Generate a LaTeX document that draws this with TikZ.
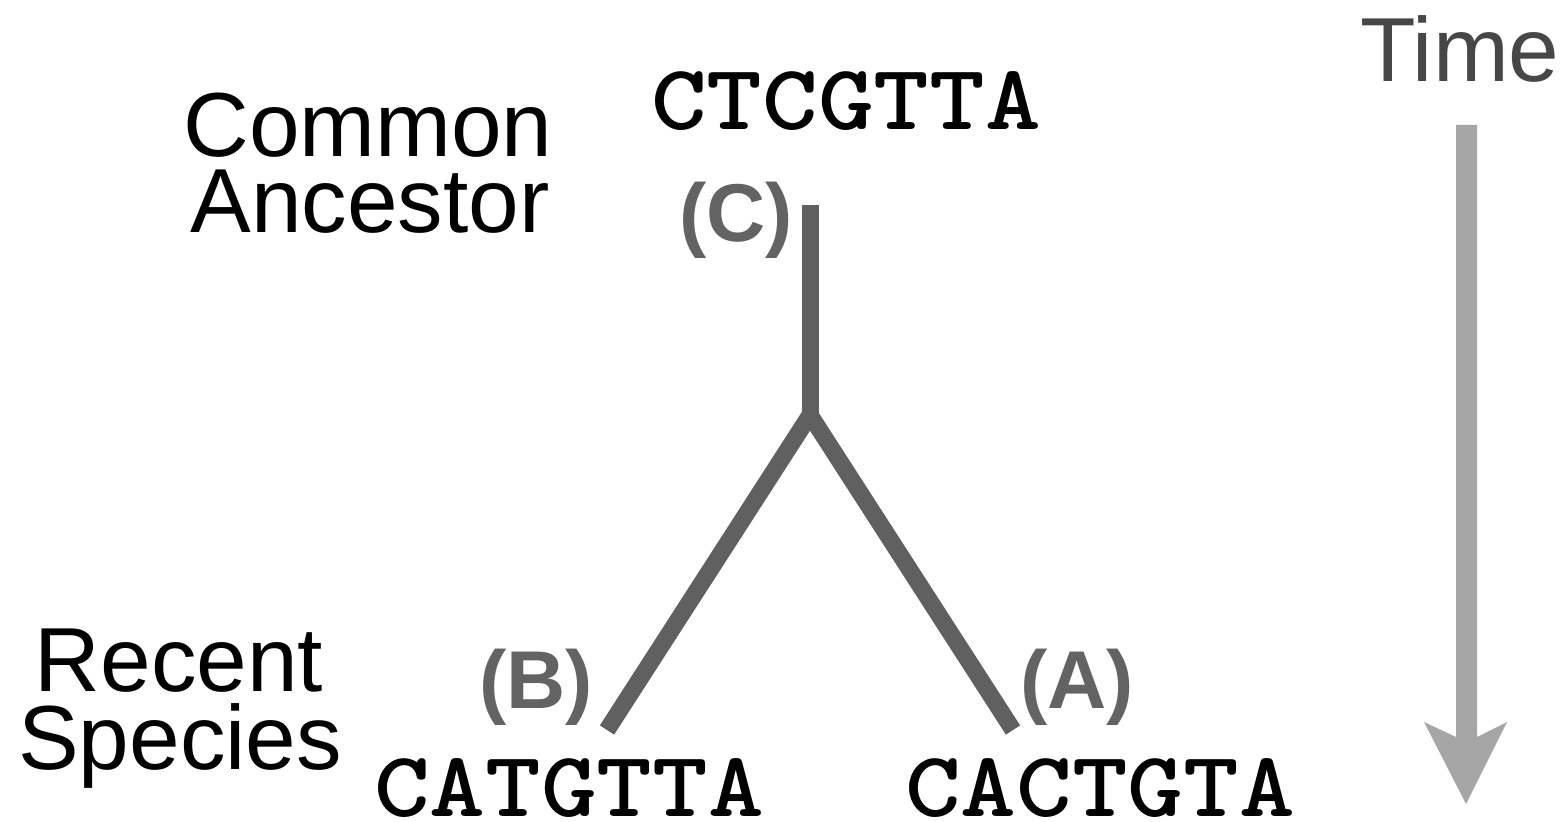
\documentclass[tikz,border=0pt]{standalone}
\usepackage{fontspec}
\usepackage{graphicx}
\setmainfont{Liberation Sans}
\definecolor{timegray}{HTML}{474747}
\definecolor{treegray}{HTML}{606060}
\definecolor{labelgray}{HTML}{636363}
\definecolor{arrowgray}{HTML}{A6A6A6}
\newcommand{\seqtext}[1]{\scalebox{1.14}[1]{#1}}
\tikzset{
  sanslabel/.style={anchor=base, inner sep=0pt, text=black, font=\fontsize{45.5pt}{50pt}\selectfont},
  seqlabel/.style={anchor=base, inner sep=0pt, text=black, font=\fontsize{46.5pt}{50pt}\selectfont\ttfamily\bfseries\addfontfeatures{FakeBold=1.5}},
  letterlabel/.style={anchor=base, inner sep=0pt, text=labelgray, font=\fontsize{41pt}{45pt}\selectfont\bfseries},
  branch/.style={draw=treegray, line width=8.5pt, line join=miter, line cap=butt},
}
\begin{document}
\begin{tikzpicture}[x=0.5pt, y=-0.5pt]
\useasboundingbox (0,0) rectangle (1567,822);
% time label and arrow
\node[sanslabel, text=timegray] (time) at (1460,82) {Time};
\fill[arrowgray] (1456,125) -- (1477,125) -- (1477,737) -- (1507,722) -- (1466,804)
  -- (1424,722) -- (1456,737) -- cycle;
% left labels
\node[sanslabel] (ca1) at (368,157) {Common};
\node[sanslabel] (ca2) at (370,233) {Ancestor};
\node[sanslabel] (rs1) at (179,691) {Recent};
\node[sanslabel] (rs2) at (180,769) {Species};
% sequences
\node[seqlabel] (seqC) at (846,130) {\seqtext{CTCGTTA}};
\node[seqlabel] (seqB) at (569,816) {\seqtext{CATGTTA}};
\node[seqlabel] (seqA) at (1100,816) {\seqtext{CACTGTA}};
% letters
\node[letterlabel] (labC) at (736,242) {(C)};
\node[letterlabel] (labB) at (536,708) {(B)};
\node[letterlabel] (labA) at (1077,708) {(A)};
% tree
\coordinate (top) at (810,205);
\coordinate (fork) at (810,415);
\coordinate (endB) at (607,730);
\coordinate (endA) at (1013,730);
\draw[branch] (top) -- (fork);
\draw[branch] (endB) -- (fork) -- (endA);
\end{tikzpicture}
\end{document}
